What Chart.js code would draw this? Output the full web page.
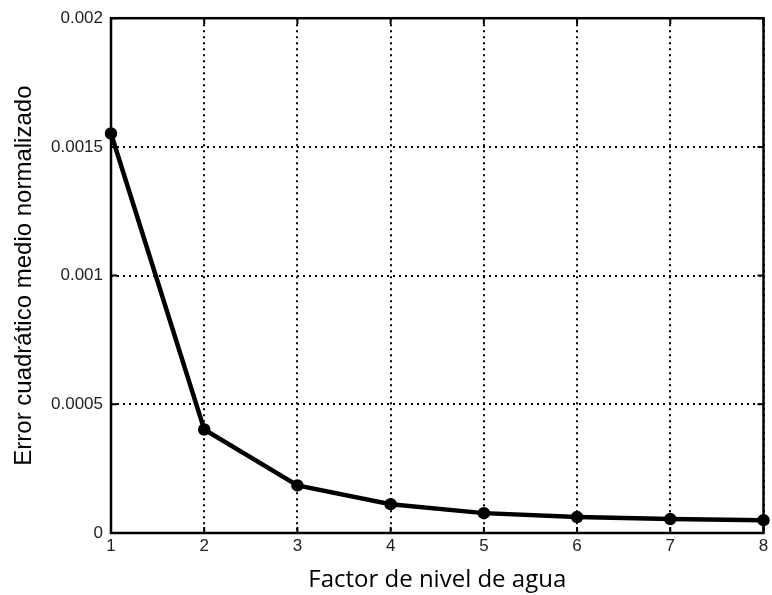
<!DOCTYPE html>
<html>
<head>
<meta charset="utf-8">
<script src="https://cdn.jsdelivr.net/npm/chart.js@4"></script>
<style>
  html, body { margin: 0; padding: 0; background: #fff; }
  #wrap { width: 772px; height: 595px; }
</style>
</head>
<body>
<div id="wrap"><canvas id="chart"></canvas></div>
<script>
// data
const factors = [1, 2, 3, 4, 5, 6, 7, 8];
const errors = [0.001552, 0.000402, 0.000185, 0.000112, 0.0000772, 0.0000618, 0.000054, 0.00005];
const yTickLabels = { 0: '0', 0.0005: '0.0005', 0.001: '0.001', 0.0015: '0.0015', 0.002: '0.002' };

// closed box round the plot area, with short inward tick marks (matlab style)
const frame = {
    id: 'frame',
    afterDraw(chart) {
        const { ctx, chartArea: a, scales } = chart;
        ctx.save();
        ctx.strokeStyle = '#000';
        ctx.lineWidth = 2;
        ctx.beginPath();
        scales.x.ticks.forEach(t => {
            const px = scales.x.getPixelForValue(t.value);
            ctx.moveTo(px, a.bottom); ctx.lineTo(px, a.bottom - 6);
            ctx.moveTo(px, a.top); ctx.lineTo(px, a.top + 6);
        });
        scales.y.ticks.forEach(t => {
            const py = scales.y.getPixelForValue(t.value);
            ctx.moveTo(a.left, py); ctx.lineTo(a.left + 6, py);
            ctx.moveTo(a.right, py); ctx.lineTo(a.right - 6, py);
        });
        ctx.stroke();
        ctx.lineWidth = 2.5;
        ctx.strokeRect(a.left, a.top, a.right - a.left, a.bottom - a.top);
        ctx.restore();
    }
};

const tickFont = { family: "'Liberation Sans', Arial, sans-serif", size: 17 };

new Chart(document.getElementById('chart'), {
    type: 'line',
    data: {
        datasets: [{
            data: factors.map((f, i) => ({ x: f, y: errors[i] })),
            borderColor: '#000',
            backgroundColor: '#000',
            borderWidth: 4.5,
            pointRadius: 4,
            tension: 0,
            clip: false
        }]
    },
    options: {
        responsive: true,
        maintainAspectRatio: false,
        animation: false,
        layout: { padding: { top: 15, right: 6, left: 0, bottom: 0 } },
        plugins: {
            legend: { display: false },
            tooltip: { enabled: false }
        },
        scales: {
            x: {
                type: 'linear',
                min: 1,
                max: 8,
                afterFit(scale) { scale.height = 62; },
                ticks: {
                    stepSize: 1,
                    color: '#222',
                    font: tickFont,
                    padding: 3
                },
                grid: {
                    color: '#000',
                    lineWidth: 2,
                    drawTicks: false
                },
                border: { display: false, dash: [2, 4] },
                title: {
                    display: true,
                    text: 'Factor de nivel de agua',
                    color: '#000',
                    font: { family: "'Open Sans', 'Noto Sans', sans-serif", size: 24, weight: '500' },
                    padding: { top: 0, bottom: 0 }
                }
            },
            y: {
                min: 0,
                max: 0.002,
                afterFit(scale) { scale.width = 111; },
                ticks: {
                    stepSize: 0.0005,
                    color: '#222',
                    font: tickFont,
                    padding: 8,
                    callback: v => yTickLabels[Math.round(v * 10000) / 10000] ?? ''
                },
                grid: {
                    color: '#000',
                    lineWidth: 2,
                    drawTicks: false
                },
                border: { display: false, dash: [2, 4] },
                title: {
                    display: true,
                    text: 'Error cuadrático medio normalizado',
                    color: '#000',
                    font: { family: "'Liberation Sans', Arial, sans-serif", size: 24 },
                    padding: { top: 10, bottom: 6 }
                }
            }
        }
    },
    plugins: [frame]
});
</script>
</body>
</html>
